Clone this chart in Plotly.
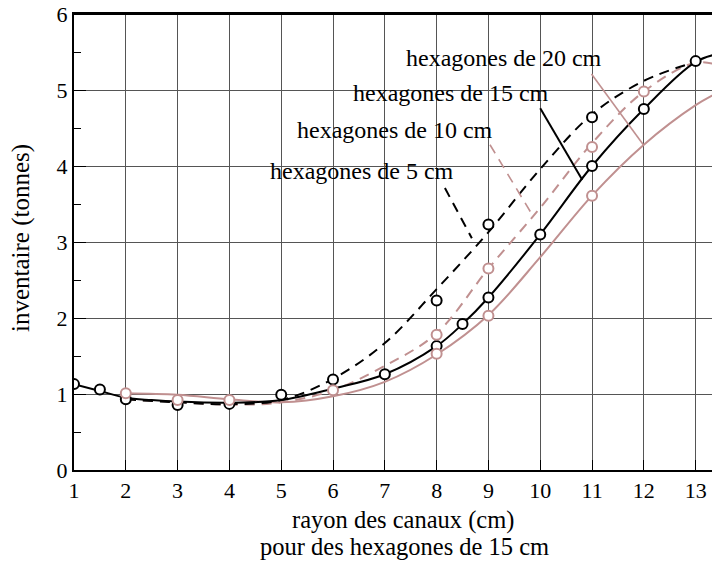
import plotly.graph_objects as go

# ---- data ----
# curves (digitised)
x_c15 = [1, 1.5, 2, 2.5, 3, 4, 5, 6, 7, 8, 8.5, 9, 10, 11, 12, 13, 13.47]
y_c15 = [1.13, 1.04, 0.95, 0.92, 0.90, 0.885, 0.92, 1.07, 1.26, 1.63, 1.92, 2.27, 3.10, 4.00, 4.75, 5.37, 5.48]

x_c5 = [2, 3, 4, 5, 6, 7, 8, 9, 10, 11, 12, 13]
y_c5 = [0.93, 0.89, 0.865, 0.92, 1.20, 1.67, 2.38, 3.13, 3.96, 4.68, 5.12, 5.37]

x_c10 = [2, 3, 4, 5, 6, 7, 8, 9, 10, 11, 12, 13, 13.47]
y_c10 = [0.93, 0.895, 0.86, 0.89, 1.05, 1.37, 1.80, 2.65, 3.45, 4.30, 4.98, 5.36, 5.32]

x_c20 = [2, 3, 4, 5, 6, 7, 8, 9, 10, 11, 12, 13, 13.47]
y_c20 = [1.01, 0.99, 0.93, 0.89, 0.97, 1.16, 1.52, 2.04, 2.80, 3.61, 4.28, 4.80, 4.98]

# measured points
x_p15 = [1, 1.5, 2, 3, 4, 5, 7, 8, 8.5, 9, 10, 11, 12, 13]
y_p15 = [1.13, 1.06, 0.93, 0.855, 0.87, 0.99, 1.26, 1.63, 1.92, 2.27, 3.10, 4.00, 4.75, 5.38]
x_p5 = [6, 8, 9, 11]
y_p5 = [1.19, 2.23, 3.23, 4.64]
x_p10 = [3, 4, 6, 8, 9, 11, 12]
y_p10 = [0.92, 0.92, 1.05, 1.78, 2.65, 4.25, 4.98]
x_p20 = [2, 8, 9, 11]
y_p20 = [1.01, 1.53, 2.03, 3.61]

x_ticks = list(range(1, 14))
y_ticks = list(range(0, 7))

labels = ["hexagones de 20 cm", "hexagones de 15 cm", "hexagones de 10 cm", "hexagones de 5 cm"]
label_x = [9.30, 8.28, 7.19, 6.55]
label_y = [5.42, 4.96, 4.47, 3.93]
# leader lines: (x0, y0, x1, y1)
leaders = [(10.99, 5.21, 11.99, 4.28), (10.00, 4.76, 10.81, 3.82),
           (9.03, 4.28, 9.87, 3.33), (8.16, 3.71, 8.68, 3.05)]

PINK = "#c09090"
BLACK = "#000000"
FONT = "Liberation Serif"
DASH = "10px,7px"

fig = go.Figure()

def curve(x, y, color, dash):
    fig.add_trace(go.Scatter(x=x, y=y, mode="lines",
                             line=dict(color=color, width=2, dash=dash, shape="spline", smoothing=1.0),
                             showlegend=False, hoverinfo="skip"))

def points(x, y, color):
    fig.add_trace(go.Scatter(x=x, y=y, mode="markers",
                             marker=dict(symbol="circle", size=10, color="white",
                                         line=dict(color=color, width=2)),
                             showlegend=False, hoverinfo="skip"))

curve(x_c20, y_c20, PINK, "solid")
curve(x_c10, y_c10, PINK, DASH)
curve(x_c5, y_c5, BLACK, DASH)
curve(x_c15, y_c15, BLACK, "solid")
points(x_p15, y_p15, BLACK)
points(x_p5, y_p5, BLACK)
points(x_p10, y_p10, PINK)
points(x_p20, y_p20, PINK)

leader_style = [(PINK, "solid"), (BLACK, "solid"), (PINK, DASH), (BLACK, DASH)]
for (x0, y0, x1, y1), (c, d) in zip(leaders, leader_style):
    fig.add_shape(type="line", xref="x", yref="y", x0=x0, y0=y0, x1=x1, y1=y1,
                  line=dict(color=c, width=2 if c == BLACK else 1.6, dash=d))

# top frame line
fig.add_shape(type="line", xref="paper", yref="paper", x0=0, x1=1, y0=1, y1=1,
              line=dict(color="black", width=2), layer="above")

for t, lx, ly in zip(labels, label_x, label_y):
    fig.add_annotation(x=lx, y=ly, xref="x", yref="y", text=t, showarrow=False,
                       font=dict(family=FONT, size=24, color="black"))

# axis titles as annotations (page pixels: plot area 74..720 x 14..470)
fig.add_annotation(x=(403 - 74) / 646, y=(470 - 520) / 456, xref="paper", yref="paper",
                   yanchor="middle", text="rayon des canaux (cm)", showarrow=False,
                   font=dict(family=FONT, size=24.5, color="black"))
fig.add_annotation(x=(404 - 74) / 646, y=(470 - 546) / 456, xref="paper", yref="paper",
                   yanchor="middle", text="pour des hexagones de 15 cm", showarrow=False,
                   font=dict(family=FONT, size=24.5, color="black"))
fig.add_annotation(x=(21 - 74) / 646, y=(470 - 238) / 456, xref="paper", yref="paper",
                   xanchor="center", yanchor="middle", textangle=-90,
                   text="inventaire (tonnes)", showarrow=False,
                   font=dict(family=FONT, size=25, color="black"))

# the page body has an 8px margin: size the figure so it fits the 720x562 window
fig.update_layout(
    width=712, height=554,
    margin=dict(l=66, r=0, t=6, b=92, autoexpand=False),
    paper_bgcolor="white", plot_bgcolor="white",
    font=dict(family=FONT, size=22, color="black"),
    xaxis=dict(range=[1, 13.47], tickvals=x_ticks, ticktext=[str(v) for v in x_ticks],
               showgrid=True, gridcolor="#555555", gridwidth=1,
               showline=True, linecolor="black", linewidth=2, mirror=True,
               ticks="inside", ticklen=10, tickcolor="black", tickwidth=1,
               ticklabeloverflow="allow",
               zeroline=False, automargin=False, tickfont=dict(family=FONT, size=22)),
    yaxis=dict(range=[0, 6], tickvals=y_ticks, ticktext=[str(v) for v in y_ticks],
               showgrid=True, gridcolor="#555555", gridwidth=1,
               showline=True, linecolor="black", linewidth=2,
               ticks="inside", ticklen=12, tickcolor="black", tickwidth=1,
               ticklabeloverflow="allow",
               minor=dict(dtick=0.5, tick0=0, ticks="inside", ticklen=7, tickcolor="black", showgrid=False),
               zeroline=False, automargin=False, tickfont=dict(family=FONT, size=22)),
)

fig.write_html("out.html")
